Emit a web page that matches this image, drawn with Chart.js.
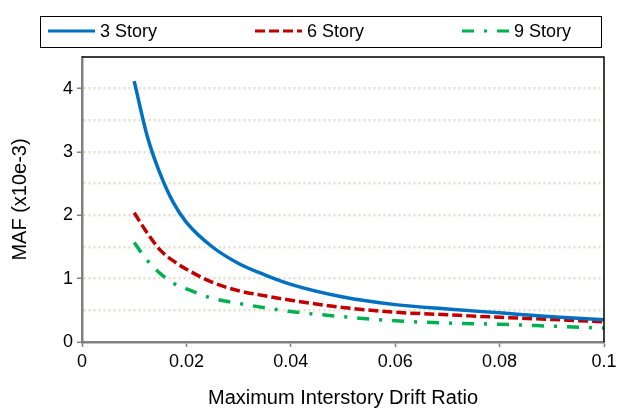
<!DOCTYPE html>
<html>
<head>
<meta charset="utf-8">
<script src="https://cdn.jsdelivr.net/npm/chart.js@4.4.0/dist/chart.umd.min.js"></script>
<style>
    html, body { margin: 0; padding: 0; background: #fff; }
    #wrap { width: 618px; height: 410px; }
</style>
</head>
<body>
<div id="wrap"><canvas id="mafChart" width="618" height="410"></canvas></div>
<script>

const driftRatio = [0.01, 0.0125, 0.015, 0.0175, 0.02, 0.025, 0.03, 0.035, 0.04, 0.05, 0.06, 0.07, 0.08, 0.09, 0.1];
const story3 = [4.12, 3.25, 2.65, 2.20, 1.89, 1.50, 1.24, 1.06, 0.91, 0.71, 0.59, 0.52, 0.46, 0.40, 0.35];
const story6 = [2.04, 1.72, 1.45, 1.28, 1.15, 0.94, 0.81, 0.73, 0.66, 0.545, 0.47, 0.43, 0.39, 0.355, 0.32];
const story9 = [1.57, 1.29, 1.08, 0.93, 0.84, 0.69, 0.61, 0.54, 0.48, 0.40, 0.335, 0.30, 0.28, 0.25, 0.22];
const seriesNames = ["3 Story", "6 Story", "9 Story"];
const xTicks = [0, 0.02, 0.04, 0.06, 0.08, 0.1];

const FONT = "'Liberation Sans', Arial, sans-serif";

function toPoints(values) {
    return values.map((v, i) => ({ x: driftRatio[i], y: v }));
}

// legend drawn in a box above the plot
const boxLegend = {
    id: "boxLegend",
    afterDraw(chart) {
        const ctx = chart.ctx;
        const starts = [48, 255, 462];
        ctx.save();
        ctx.strokeStyle = "#000";
        ctx.lineWidth = 1;
        ctx.strokeRect(40.5, 16.5, 561, 31);
        chart.data.datasets.forEach((ds, i) => {
            const x = starts[i];
            ctx.strokeStyle = ds.borderColor;
            ctx.lineWidth = 3;
            ctx.setLineDash(ds.borderDash || []);
            ctx.beginPath();
            ctx.moveTo(x, 31);
            ctx.lineTo(x + 47, 31);
            ctx.stroke();
            ctx.setLineDash([]);
            ctx.fillStyle = "#000";
            ctx.font = "18px " + FONT;
            ctx.textBaseline = "middle";
            ctx.fillText(ds.label, x + 52, 32);
        });

        // black top and right border of the plot area
        const a = chart.chartArea;
        ctx.strokeStyle = "#000";
        ctx.lineWidth = 1.5;
        ctx.beginPath();
        ctx.moveTo(a.left, a.top);
        ctx.lineTo(a.right, a.top);
        ctx.lineTo(a.right, a.bottom);
        ctx.stroke();
        ctx.restore();
    }
};

const ctx = document.getElementById("mafChart").getContext("2d");

new Chart(ctx, {
    type: "line",
    data: {
        datasets: [
            {
                label: seriesNames[0],
                data: toPoints(story3),
                borderColor: "#0070C0",
                borderWidth: 3.5,
                pointRadius: 0,
                cubicInterpolationMode: "monotone"
            },
            {
                label: seriesNames[1],
                data: toPoints(story6),
                borderColor: "#C00000",
                borderWidth: 3.5,
                borderDash: [10, 4],
                pointRadius: 0,
                cubicInterpolationMode: "monotone"
            },
            {
                label: seriesNames[2],
                data: toPoints(story9),
                borderColor: "#00B050",
                borderWidth: 3.5,
                borderDash: [12, 10, 3, 10],
                pointRadius: 0,
                cubicInterpolationMode: "monotone"
            }
        ]
    },
    options: {
        responsive: false,
        animation: false,
        layout: { padding: { top: 57, right: 14, left: 0, bottom: 0 } },
        plugins: {
            legend: { display: false },
            tooltip: { enabled: false }
        },
        scales: {
            x: {
                type: "linear",
                min: 0,
                max: 0.1,
                afterFit: scale => {
                    scale.height = 68;
                    scale.paddingLeft = 0;
                    scale.paddingRight = 0;
                },
                afterBuildTicks: scale => {
                    scale.ticks = xTicks.map(v => ({ value: v }));
                },
                border: { color: "#808080", width: 2.5 },
                grid: {
                    drawOnChartArea: false,
                    tickLength: 5,
                    tickColor: "#808080",
                    tickWidth: 1.5
                },
                ticks: {
                    color: "#000",
                    font: { family: FONT, size: 18 },
                    padding: 4,
                    maxRotation: 0,
                    callback: v => String(Math.round(v * 100) / 100)
                },
                title: {
                    display: true,
                    text: "Maximum Interstory Drift Ratio",
                    color: "#000",
                    font: { family: FONT, size: 20 },
                    padding: { top: 0, bottom: 0 }
                }
            },
            y: {
                min: 0,
                max: 4.5,
                afterFit: scale => { scale.width = 82; },
                ticks: {
                    stepSize: 0.5,
                    color: "#000",
                    font: { family: FONT, size: 18 },
                    padding: 4,
                    callback: v => Number.isInteger(v) ? String(v) : ""
                },
                border: { color: "#808080", width: 2.5, dash: [2, 3] },
                grid: {
                    color: ctx2 => (ctx2.tick.value === 0 || ctx2.tick.value === 4.5) ? "rgba(0,0,0,0)" : "#e2dfcf",
                    lineWidth: 2.5,
                    tickLength: 5,
                    tickColor: ctx2 => Number.isInteger(ctx2.tick.value) ? "#808080" : "rgba(0,0,0,0)",
                    tickBorderDash: [],
                    tickWidth: 1.5
                },
                title: {
                    display: true,
                    text: "MAF (x10e-3)",
                    color: "#000",
                    font: { family: FONT, size: 20 },
                    padding: { top: 8, bottom: 0 }
                }
            }
        }
    },
    plugins: [boxLegend]
});
</script>
</body>
</html>
